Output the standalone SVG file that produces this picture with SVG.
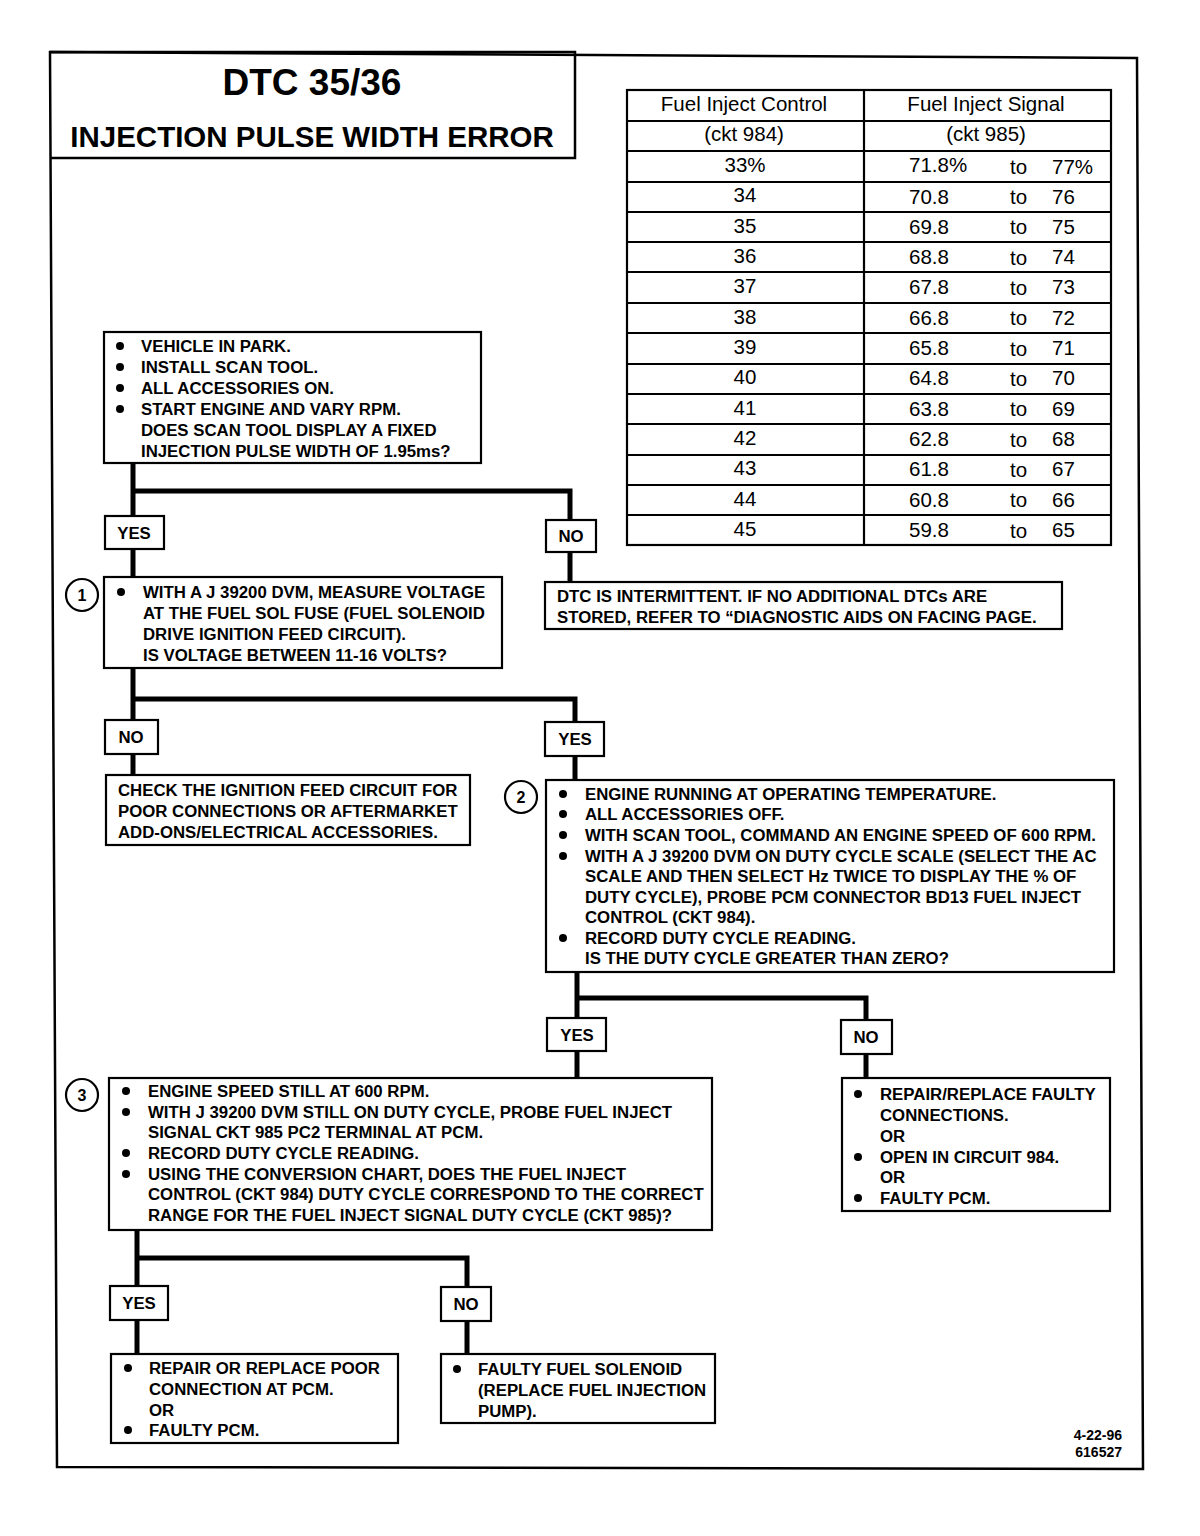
<svg xmlns="http://www.w3.org/2000/svg" width="1200" height="1536" viewBox="0 0 1200 1536">
<defs>
<style>
.frame{fill:none;stroke:#000;stroke-width:2.5}
.box{fill:#fff;stroke:#000;stroke-width:2.2}
.lbl{fill:#fff;stroke:#000;stroke-width:2.2}
.conn{fill:none;stroke:#000;stroke-width:5;stroke-linejoin:miter}
.grid{fill:none;stroke:#000;stroke-width:2.2}
.t{font-family:"Liberation Sans",Arial,sans-serif;font-weight:bold;font-size:16.8px;fill:#000}
.lt{font-family:"Liberation Sans",Arial,sans-serif;font-weight:bold;font-size:16.8px;fill:#000;text-anchor:middle}
.tb{font-family:"Liberation Sans",Arial,sans-serif;font-size:20.5px;fill:#000}
.tbc{font-family:"Liberation Sans",Arial,sans-serif;font-size:20.5px;fill:#000;text-anchor:middle}
.num{font-family:"Liberation Sans",Arial,sans-serif;font-weight:bold;font-size:16px;fill:#000;text-anchor:middle}
.circ{fill:#fff;stroke:#000;stroke-width:2.2}
</style>
<circle id="bul" r="4" fill="#000"/>
</defs>
<rect width="1200" height="1536" fill="#fff"/>

<polygon class="frame" points="50,52 1137,58 1143,1469 57,1467"/>

<g id="title">
<polyline class="frame" points="50,52 575,52 575,158 50,158"/>
<text x="312" y="95" font-family="Liberation Sans,Arial,sans-serif" font-weight="bold" font-size="37" text-anchor="middle">DTC 35/36</text>
<text x="312" y="147" font-family="Liberation Sans,Arial,sans-serif" font-weight="bold" font-size="29.5" text-anchor="middle">INJECTION PULSE WIDTH ERROR</text>
</g>

<g id="table">
<rect class="grid" x="627" y="90" width="484" height="455" stroke-width="2.8"/>
<line class="grid" x1="864" y1="90" x2="864" y2="545"/>
<g class="grid">
<line x1="627" y1="121" x2="1111" y2="121"/>
<line x1="627" y1="151" x2="1111" y2="151"/>
<line x1="627" y1="182" x2="1111" y2="182"/>
<line x1="627" y1="212" x2="1111" y2="212"/>
<line x1="627" y1="242" x2="1111" y2="242"/>
<line x1="627" y1="272" x2="1111" y2="272"/>
<line x1="627" y1="303" x2="1111" y2="303"/>
<line x1="627" y1="333" x2="1111" y2="333"/>
<line x1="627" y1="364" x2="1111" y2="364"/>
<line x1="627" y1="394" x2="1111" y2="394"/>
<line x1="627" y1="424" x2="1111" y2="424"/>
<line x1="627" y1="455" x2="1111" y2="455"/>
<line x1="627" y1="485" x2="1111" y2="485"/>
<line x1="627" y1="515" x2="1111" y2="515"/>
</g>
<text class="tbc" x="744" y="111">Fuel Inject Control</text>
<text class="tbc" x="986" y="111">Fuel Inject Signal</text>
<text class="tbc" x="744" y="141">(ckt 984)</text>
<text class="tbc" x="986" y="141">(ckt 985)</text>
<g class="tbc">
<text x="745" y="172">33%</text>
<text x="745" y="202">34</text>
<text x="745" y="233">35</text>
<text x="745" y="263">36</text>
<text x="745" y="293">37</text>
<text x="745" y="324">38</text>
<text x="745" y="354">39</text>
<text x="745" y="384">40</text>
<text x="745" y="415">41</text>
<text x="745" y="445">42</text>
<text x="745" y="475">43</text>
<text x="745" y="506">44</text>
<text x="745" y="536">45</text>
</g>
<g class="tb">
<text x="909" y="172">71.8%</text><text x="1010" y="174">to</text><text x="1052" y="174">77%</text>
<text x="909" y="204">70.8</text><text x="1010" y="204">to</text><text x="1052" y="204">76</text>
<text x="909" y="234">69.8</text><text x="1010" y="234">to</text><text x="1052" y="234">75</text>
<text x="909" y="264">68.8</text><text x="1010" y="265">to</text><text x="1052" y="264">74</text>
<text x="909" y="294">67.8</text><text x="1010" y="295">to</text><text x="1052" y="294">73</text>
<text x="909" y="325">66.8</text><text x="1010" y="325">to</text><text x="1052" y="325">72</text>
<text x="909" y="355">65.8</text><text x="1010" y="356">to</text><text x="1052" y="355">71</text>
<text x="909" y="385">64.8</text><text x="1010" y="386">to</text><text x="1052" y="385">70</text>
<text x="909" y="416">63.8</text><text x="1010" y="416">to</text><text x="1052" y="416">69</text>
<text x="909" y="446">62.8</text><text x="1010" y="447">to</text><text x="1052" y="446">68</text>
<text x="909" y="476">61.8</text><text x="1010" y="477">to</text><text x="1052" y="476">67</text>
<text x="909" y="507">60.8</text><text x="1010" y="507">to</text><text x="1052" y="507">66</text>
<text x="909" y="537">59.8</text><text x="1010" y="538">to</text><text x="1052" y="537">65</text>
</g>
</g>

<g id="connectors">
<polyline class="conn" points="133,463 133,577"/>
<polyline class="conn" points="133,491 570,491 570,582"/>
<polyline class="conn" points="133,668 133,775"/>
<polyline class="conn" points="133,699 575,699 575,781"/>
<polyline class="conn" points="577,972 577,1078"/>
<polyline class="conn" points="577,998 866,998 866,1078"/>
<polyline class="conn" points="137,1230 137,1354"/>
<polyline class="conn" points="137,1258 467,1258 467,1354"/>
</g>

<g id="labels">
<g id="lbl-yes1"><rect class="lbl" x="105" y="516" width="59" height="33"/><text class="lt" x="134" y="539">YES</text></g>
<g id="lbl-no1"><rect class="lbl" x="546" y="520" width="50" height="32"/><text class="lt" x="571" y="542">NO</text></g>
<g id="lbl-no2"><rect class="lbl" x="105" y="720" width="53" height="34"/><text class="lt" x="131" y="743">NO</text></g>
<g id="lbl-yes2"><rect class="lbl" x="545" y="722" width="59" height="34"/><text class="lt" x="575" y="745">YES</text></g>
<g id="lbl-yes3"><rect class="lbl" x="547" y="1018" width="59" height="33"/><text class="lt" x="577" y="1041">YES</text></g>
<g id="lbl-no3"><rect class="lbl" x="841" y="1020" width="51" height="34"/><text class="lt" x="866" y="1043">NO</text></g>
<g id="lbl-yes4"><rect class="lbl" x="110" y="1286" width="58" height="34"/><text class="lt" x="139" y="1309">YES</text></g>
<g id="lbl-no4"><rect class="lbl" x="441" y="1287" width="50" height="34"/><text class="lt" x="466" y="1310">NO</text></g>
</g>

<g id="node-start">
<rect class="box" x="104" y="332" width="377" height="131"/>
<use href="#bul" x="120" y="346"/><use href="#bul" x="120" y="367"/><use href="#bul" x="120" y="388"/><use href="#bul" x="120" y="409"/>
<text class="t" x="141" y="352">VEHICLE IN PARK.</text>
<text class="t" x="141" y="373">INSTALL SCAN TOOL.</text>
<text class="t" x="141" y="394">ALL ACCESSORIES ON.</text>
<text class="t" x="141" y="415">START ENGINE AND VARY RPM.</text>
<text class="t" x="141" y="436">DOES SCAN TOOL DISPLAY A FIXED</text>
<text class="t" x="141" y="457">INJECTION PULSE WIDTH OF 1.95ms?</text>
</g>

<g id="node-1">
<circle class="circ" cx="82" cy="595" r="16"/><text class="num" x="82" y="601">1</text>
<rect class="box" x="104" y="577" width="398" height="91"/>
<use href="#bul" x="121" y="592"/>
<text class="t" x="143" y="598">WITH A J 39200 DVM, MEASURE VOLTAGE</text>
<text class="t" x="143" y="619">AT THE FUEL SOL FUSE (FUEL SOLENOID</text>
<text class="t" x="143" y="640">DRIVE IGNITION FEED CIRCUIT).</text>
<text class="t" x="143" y="661">IS VOLTAGE BETWEEN 11-16 VOLTS?</text>
</g>

<g id="node-intermittent">
<rect class="box" x="545" y="582" width="517" height="47"/>
<text class="t" x="557" y="602">DTC IS INTERMITTENT. IF NO ADDITIONAL DTCs ARE</text>
<text class="t" x="557" y="623">STORED, REFER TO “DIAGNOSTIC AIDS ON FACING PAGE.</text>
</g>

<g id="node-check">
<rect class="box" x="106" y="775" width="364" height="70"/>
<text class="t" x="118" y="796">CHECK THE IGNITION FEED CIRCUIT FOR</text>
<text class="t" x="118" y="817">POOR CONNECTIONS OR AFTERMARKET</text>
<text class="t" x="118" y="838">ADD-ONS/ELECTRICAL ACCESSORIES.</text>
</g>

<g id="node-2">
<circle class="circ" cx="521" cy="797" r="16"/><text class="num" x="521" y="803">2</text>
<rect class="box" x="546" y="780" width="568" height="192"/>
<use href="#bul" x="563" y="794"/><use href="#bul" x="563" y="814"/><use href="#bul" x="563" y="835"/><use href="#bul" x="563" y="856"/><use href="#bul" x="563" y="938"/>
<text class="t" x="585" y="800">ENGINE RUNNING AT OPERATING TEMPERATURE.</text>
<text class="t" x="585" y="820">ALL ACCESSORIES OFF.</text>
<text class="t" x="585" y="841">WITH SCAN TOOL, COMMAND AN ENGINE SPEED OF 600 RPM.</text>
<text class="t" x="585" y="862">WITH A J 39200 DVM ON DUTY CYCLE SCALE (SELECT THE AC</text>
<text class="t" x="585" y="882">SCALE AND THEN SELECT Hz TWICE TO DISPLAY THE % OF</text>
<text class="t" x="585" y="903">DUTY CYCLE), PROBE PCM CONNECTOR BD13 FUEL INJECT</text>
<text class="t" x="585" y="923">CONTROL (CKT 984).</text>
<text class="t" x="585" y="944">RECORD DUTY CYCLE READING.</text>
<text class="t" x="585" y="964">IS THE DUTY CYCLE GREATER THAN ZERO?</text>
</g>

<g id="node-3">
<circle class="circ" cx="82" cy="1095" r="16"/><text class="num" x="82" y="1101">3</text>
<rect class="box" x="109" y="1078" width="603" height="152"/>
<use href="#bul" x="126" y="1091"/><use href="#bul" x="126" y="1112"/><use href="#bul" x="126" y="1153"/><use href="#bul" x="126" y="1174"/>
<text class="t" x="148" y="1097">ENGINE SPEED STILL AT 600 RPM.</text>
<text class="t" x="148" y="1118">WITH J 39200 DVM STILL ON DUTY CYCLE, PROBE FUEL INJECT</text>
<text class="t" x="148" y="1138">SIGNAL CKT 985 PC2 TERMINAL AT PCM.</text>
<text class="t" x="148" y="1159">RECORD DUTY CYCLE READING.</text>
<text class="t" x="148" y="1180">USING THE CONVERSION CHART, DOES THE FUEL INJECT</text>
<text class="t" x="148" y="1200">CONTROL (CKT 984) DUTY CYCLE CORRESPOND TO THE CORRECT</text>
<text class="t" x="148" y="1221">RANGE FOR THE FUEL INJECT SIGNAL DUTY CYCLE (CKT 985)?</text>
</g>

<g id="node-faulty984">
<rect class="box" x="842" y="1078" width="268" height="133"/>
<use href="#bul" x="858" y="1094"/><use href="#bul" x="858" y="1157"/><use href="#bul" x="858" y="1198"/>
<text class="t" x="880" y="1100">REPAIR/REPLACE FAULTY</text>
<text class="t" x="880" y="1121">CONNECTIONS.</text>
<text class="t" x="880" y="1142">OR</text>
<text class="t" x="880" y="1163">OPEN IN CIRCUIT 984.</text>
<text class="t" x="880" y="1183">OR</text>
<text class="t" x="880" y="1204">FAULTY PCM.</text>
</g>

<g id="node-repair-pcm">
<rect class="box" x="111" y="1354" width="287" height="89"/>
<use href="#bul" x="128" y="1368"/><use href="#bul" x="128" y="1430"/>
<text class="t" x="149" y="1374">REPAIR OR REPLACE POOR</text>
<text class="t" x="149" y="1395">CONNECTION AT PCM.</text>
<text class="t" x="149" y="1416">OR</text>
<text class="t" x="149" y="1436">FAULTY PCM.</text>
</g>

<g id="node-solenoid">
<rect class="box" x="441" y="1354" width="274" height="69"/>
<use href="#bul" x="457" y="1369"/>
<text class="t" x="478" y="1375">FAULTY FUEL SOLENOID</text>
<text class="t" x="478" y="1396">(REPLACE FUEL INJECTION</text>
<text class="t" x="478" y="1417">PUMP).</text>
</g>

<g id="footer">
<text x="1122" y="1440" font-family="Liberation Sans,Arial,sans-serif" font-weight="bold" font-size="14" text-anchor="end">4-22-96</text>
<text x="1122" y="1457" font-family="Liberation Sans,Arial,sans-serif" font-weight="bold" font-size="14" text-anchor="end">616527</text>
</g>
</svg>
